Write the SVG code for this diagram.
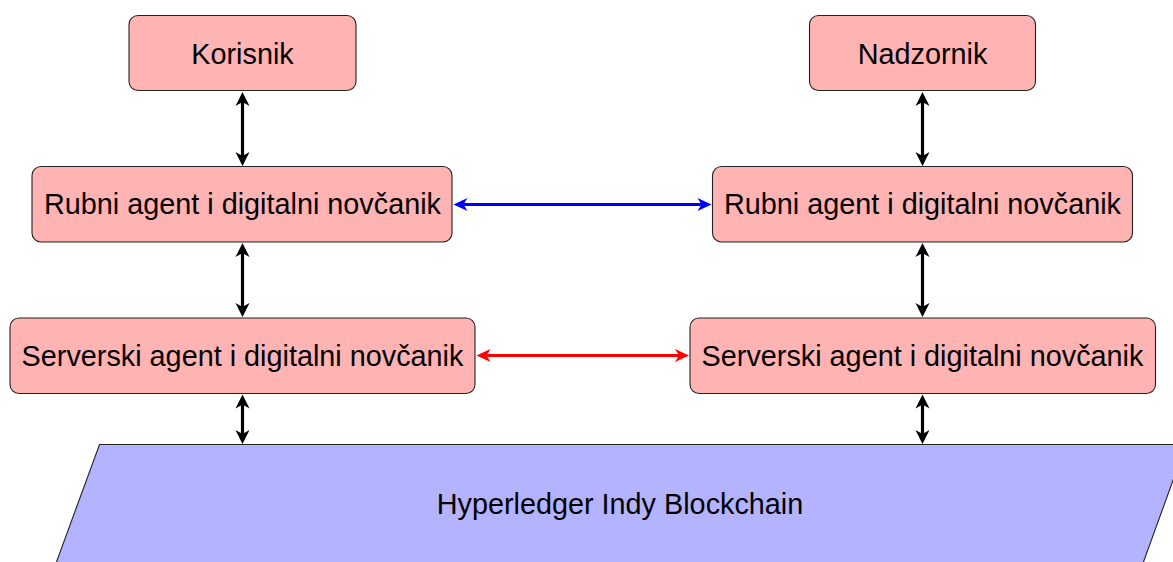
<svg xmlns="http://www.w3.org/2000/svg" width="1173" height="562" viewBox="0 0 1173 562">
<defs>
<style>
.box{fill:#ffb3b3;stroke:#222;stroke-width:1.1}
.chain{fill:#b3b3ff;stroke:#222;stroke-width:1.1}
.lbl{font-family:"Liberation Sans",Arial,sans-serif;font-size:28.8px;fill:#000;text-anchor:middle}
.blk{stroke:#000;stroke-width:3.2;fill:none}
.blu{stroke:#0000ff;stroke-width:2.8;fill:none}
.red{stroke:#ff0000;stroke-width:2.8;fill:none}
</style>
<marker id="hk" markerUnits="userSpaceOnUse" viewBox="-5 -8 16 16" markerWidth="16" markerHeight="16" refX="0" refY="0" orient="auto-start-reverse">
<path d="M-4,-7 L10,0 L-4,7 L0,0 Z" fill="#000"/>
</marker>
<marker id="hb" markerUnits="userSpaceOnUse" viewBox="-5 -8 16 16" markerWidth="16" markerHeight="16" refX="0" refY="0" orient="auto-start-reverse">
<path d="M-4,-6.5 L10,0 L-4,6.5 L0,0 Z" fill="#0000ff"/>
</marker>
<marker id="hr" markerUnits="userSpaceOnUse" viewBox="-5 -8 16 16" markerWidth="16" markerHeight="16" refX="0" refY="0" orient="auto-start-reverse">
<path d="M-4,-6.5 L10,0 L-4,6.5 L0,0 Z" fill="#ff0000"/>
</marker>
</defs>
<rect width="1173" height="562" fill="#fff"/>
<g id="chain">
<polygon class="chain" points="99.5,444.5 1186,444.5 1142,566 55,566"/>
<text class="lbl" x="620" y="514">Hyperledger Indy Blockchain</text>
</g>
<g id="korisnik">
<rect class="box" x="129" y="15.5" width="227" height="75" rx="9"/>
<text class="lbl" x="242.5" y="63.5">Korisnik</text>
</g>
<g id="nadzornik">
<rect class="box" x="809.5" y="15.5" width="226" height="75" rx="9"/>
<text class="lbl" x="922.5" y="63.5">Nadzornik</text>
</g>
<g id="rubni-left">
<rect class="box" x="32" y="166.5" width="420" height="75.5" rx="9"/>
<text class="lbl" x="242.5" y="214">Rubni agent i digitalni novčanik</text>
</g>
<g id="rubni-right">
<rect class="box" x="712.5" y="166.5" width="420" height="75.5" rx="9"/>
<text class="lbl" x="922.5" y="214">Rubni agent i digitalni novčanik</text>
</g>
<g id="serverski-left">
<rect class="box" x="10" y="318" width="465" height="75.5" rx="9"/>
<text class="lbl" x="242.5" y="365.5">Serverski agent i digitalni novčanik</text>
</g>
<g id="serverski-right">
<rect class="box" x="690" y="318" width="465.5" height="75.5" rx="9"/>
<text class="lbl" x="922.5" y="365.5">Serverski agent i digitalni novčanik</text>
</g>
<g id="connectors">
<line class="blk" x1="242.5" y1="102" x2="242.5" y2="156" marker-start="url(#hk)" marker-end="url(#hk)"/>
<line class="blk" x1="242.5" y1="253" x2="242.5" y2="307" marker-start="url(#hk)" marker-end="url(#hk)"/>
<line class="blk" x1="242.5" y1="404.5" x2="242.5" y2="434" marker-start="url(#hk)" marker-end="url(#hk)"/>
<line class="blk" x1="922.5" y1="102" x2="922.5" y2="156" marker-start="url(#hk)" marker-end="url(#hk)"/>
<line class="blk" x1="922.5" y1="253" x2="922.5" y2="307" marker-start="url(#hk)" marker-end="url(#hk)"/>
<line class="blk" x1="922.5" y1="404.5" x2="922.5" y2="434" marker-start="url(#hk)" marker-end="url(#hk)"/>
<line class="blu" x1="463.5" y1="204.5" x2="701.5" y2="204.5" marker-start="url(#hb)" marker-end="url(#hb)"/>
<line class="red" x1="486.5" y1="355.5" x2="679" y2="355.5" marker-start="url(#hr)" marker-end="url(#hr)"/>
</g>
</svg>
